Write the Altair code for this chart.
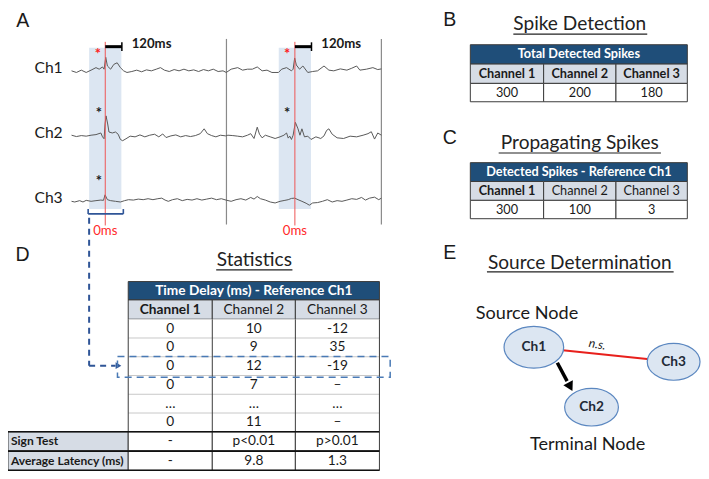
import altair as alt
import pandas as pd

REF_W, REF_H = 709, 479
W, H = 693, 463
S = W / REF_W
BODY = "Lato"
LETTER = "Liberation Sans"
INK = "#1a1a1a"

# ---------------- Panel A data: EEG traces (sample position, amplitude) ----------------
channels = ["Ch1", "Ch2", "Ch3"]
ch1_pos = [65, 70, 75, 80, 85, 90, 93.3, 96.7, 98.3, 100, 101.7, 105, 108.3, 111.7, 115, 118.3, 121.7,
           126.7, 131.7, 136.7, 141.7, 146.7, 151.7, 156, 160, 165, 170, 175, 180, 185, 190, 195, 200,
           205, 210, 215, 220, 223.3, 228.3, 235, 240, 245, 250, 255, 260, 265, 270, 276.7, 280, 285,
           290, 291.7, 293.3, 295, 298.3, 301.7, 306.7, 311.7, 316.7, 323.3, 328.3, 333.3, 340, 346.7,
           351.7, 356.7, 360, 366.7, 373.3, 378.3, 382]
ch1_amp = [0, -1.7, 0.7, -1.7, 0.7, 3.3, 1.7, 4, 1.7, 14, 5, 1.7, 6.7, 8.3, 3.3, 0, -1.7,
           -0.7, 0.7, -1, 1, 0, 1.7, 3.3, 0.7, -0.7, 1.3, 0, 1.7, 0, 1, -0.7, 1.3,
           0, 1.7, -0.7, 0, -1.7, 1.7, 3.3, 0.7, 1.7, 1.7, 4, 0, 0.7, -1.7, -1.7, 1.7, 3.3,
           0, 1.7, 13.3, 6, 1.7, 5, -1.7, -0.7, 0, 5, 0.7, 0, 2, 0.7,
           2.7, 5, 0.7, 1.7, 3.3, 1.3, 2]
ch2_pos = [65, 70, 75, 80, 85, 90, 95, 96.7, 98.3, 99.3, 100.3, 102, 103.3, 106.7, 110, 112.7, 115,
           117.3, 120.7, 125, 130, 135, 140, 145, 150, 154.3, 158.3, 161.7, 166.7, 171.7, 176.7, 181.7,
           186.7, 191.7, 196.7, 200.7, 204, 208.3, 212.7, 217.3, 222.7, 225, 230, 235, 240, 245, 248.3,
           251.7, 255, 257.3, 260, 263.3, 268.3, 273.3, 278.3, 282.3, 285, 286.7, 288.3, 290, 291.7, 294,
           296.7, 298.7, 300.7, 303.3, 306.7, 310, 315, 320, 323.3, 326, 328.3, 331.7, 336.7, 343.3, 350,
           356.7, 363.3, 368.3, 371.7, 375, 378.3, 382]
ch2_amp = [0.7, -0.7, 0.3, -0.3, 0.7, 1.3, 3, -1, -3, 12.3, 20.7, 12.3, 4, 3, 4, 1.7, -3.7,
           -5, -3, -0.3, -1, 1, -1, 0.7, 1.7, -1, 2, -1.7, 0, 1, -1, 0.3,
           -0.7, 0.3, 2.3, 7.3, 2.3, 0.3, -1, 0.7, 0, 0.7, 0.3, -0.3, -1, 0.7, 2.3,
           -2.7, 9, 1.7, -2, 0.7, -1, -2.7, -1, 0.7, 3, -2.3, -0.3, -3.7, 0.7, 14,
           7.3, 0.7, 7.3, -1, -0.3, -3.7, -1, -2.7, 0, 5.7, 7.3, 1.7, -2, -2.7, -0.3,
           -1, 0.7, 2.3, 4.3, -3.3, 3, 0.7]
ch3_pos = [65, 68.3, 73.3, 76.7, 80, 85, 90, 95, 97.7, 99.3, 101.7, 105, 110, 115, 119.3, 123.3,
           128.3, 133.3, 138.3, 143.3, 148.3, 153.3, 157.3, 160.7, 164, 168.3, 173.3, 178.3, 183.3,
           188.3, 193.3, 198.3, 203.3, 208.3, 213.3, 218.3, 223.3, 228.3, 233.3, 238.3, 243.3, 248.3,
           251.7, 255, 258.3, 263.3, 268.3, 273.3, 278.3, 283.3, 286.7, 290, 293.3, 296.7, 300.7, 305,
           308.3, 311.7, 316.7, 321.7, 326.7, 331.7, 336.7, 341.7, 346.7, 351.7, 356.7, 361.7, 365.7,
           370, 375, 379.3, 382]
ch3_amp = [0, -0.7, 0.7, -0.7, 1, 0, 0.7, 1.3, 1, 6.7, 1.7, 0.7, 0, -0.7, 0.7, 1.7,
           1.3, 2.3, 1.7, 2.7, 1.7, 2.7, 3.3, 1.3, 0, 1.7, 2.7, 0.7, 2,
           1.3, 2.7, 1.3, 2.3, 3.3, 1.7, 2.7, 1.2, 0, 1.7, 2.7, 1.3, 4,
           2.3, 5, 2.7, 1.3, -0.7, -1.7, 0, 1, 1.7, 3, 3.3, 1.7, 0, -2,
           -4, -1.7, -1.3, 0, 1.7, -0.7, 0.7, 0, 1.3, 2.7, 2, 4, 1.3,
           3.3, 4.3, 1.7, 3.3]
spike_pos = [99.5, 293.5]
window_label = "120ms"
zero_label = "0ms"

# ---------------- Panel B / C data ----------------
title_b = "Spike Detection"
header_b = "Total Detected Spikes"
col_names = ["Channel 1", "Channel 2", "Channel 3"]
total_spikes = ["300", "200", "180"]
title_c = "Propagating Spikes"
header_c = "Detected Spikes - Reference Ch1"
propagating_spikes = ["300", "100", "3"]

# ---------------- Panel D data ----------------
title_d = "Statistics"
header_d = "Time Delay (ms) - Reference Ch1"
delay_ch1 = ["0", "0", "0", "0", "…", "0"]
delay_ch2 = ["10", "9", "12", "7", "…", "11"]
delay_ch3 = ["-12", "35", "-19", "–", "…", "–"]
stat_rows = ["Sign Test", "Average Latency (ms)"]
sign_test = ["-", "p<0.01", "p>0.01"]
avg_latency = ["-", "9.8", "1.3"]

# ---------------- Panel E data ----------------
title_e = "Source Determination"
node_names = ["Ch1", "Ch2", "Ch3"]
node_role = {"Ch1": "Source Node", "Ch2": "Terminal Node"}
edge_ns = ("Ch1", "Ch3", "n.s.")
edge_sig = ("Ch1", "Ch2")

for p, a in [(ch1_pos, ch1_amp), (ch2_pos, ch2_amp), (ch3_pos, ch3_amp)]:
    assert len(p) == len(a)

# ---------------- scales / helpers ----------------
xs = alt.Scale(domain=[0, REF_W], nice=False, zero=False)
ys = alt.Scale(domain=[0, REF_H], nice=False, zero=False, reverse=True)


def X(f):
    return alt.X(f, type="quantitative", scale=xs, axis=None)


def Y(f):
    return alt.Y(f, type="quantitative", scale=ys, axis=None)


def texts(rows, size, weight="normal", color=INK, align="center", baseline="middle", font=BODY, angle=0,
          italic=False):
    df = pd.DataFrame(rows, columns=["x", "y", "t"])
    kw = dict(fontSize=size * S, fontWeight=weight, color=color, align=align, baseline=baseline, font=font)
    if angle:
        kw["angle"] = angle
    if italic:
        kw["fontStyle"] = "italic"
    return alt.Chart(df).mark_text(**kw).encode(x=X("x"), y=Y("y"), text=alt.Text("t:N"))


def rules(rows, color, width=1.0, dash=None):
    df = pd.DataFrame(rows, columns=["x", "x2", "y", "y2"])
    kw = dict(color=color, strokeWidth=width)
    if dash:
        kw["strokeDash"] = dash
    return alt.Chart(df).mark_rule(**kw).encode(x=X("x"), x2="x2", y=Y("y"), y2="y2")


def rects(rows, stroke=None, width=1.0, dash=None, fill_opacity=1.0):
    df = pd.DataFrame(rows, columns=["x", "x2", "y", "y2", "fill"])
    kw = dict(fillOpacity=fill_opacity)
    if stroke:
        kw.update(stroke=stroke, strokeWidth=width)
    if dash:
        kw["strokeDash"] = dash
    return alt.Chart(df).mark_rect(**kw).encode(x=X("x"), x2="x2", y=Y("y"), y2="y2",
                                                fill=alt.Fill("fill:N", scale=None))


layers = []

# ---------------- Panel A ----------------
HILITE = "#dce6f2"
baselines = {"Ch1": 65, "Ch2": 132.3, "Ch3": 200}
layers.append(rects([(s - 16.5, s + 16.5, 41, 208, HILITE) for s in spike_pos]))
layers.append(rules([(223.5, 223.5, 32, 224), (382, 382, 32, 224)], "#8a8a8a", 1.2))

trace_rows = []
for ch, pos, amp in zip(channels, [ch1_pos, ch2_pos, ch3_pos], [ch1_amp, ch2_amp, ch3_amp]):
    for i, (p, a) in enumerate(zip(pos, amp)):
        trace_rows.append(dict(ch=ch, i=i, x=p, y=baselines[ch] - a))
layers.append(alt.Chart(pd.DataFrame(trace_rows)).mark_line(color="#5a5a5a", strokeWidth=1.0)
              .encode(x=X("x"), y=Y("y"), detail="ch:N", order="i:Q"))

layers.append(rules([(s, s, 35, 225) for s in spike_pos], "#ee5555", 1.0))
layers.append(rules([(s, s + 17, 40, 40) for s in spike_pos], "#000000", 3))
layers.append(rules([(s + 17, s + 17, 35.5, 44.5) for s in spike_pos], "#000000", 1.5))
layers.append(texts([(s + 27, 37.5, window_label) for s in spike_pos], 13.5, weight="bold", align="left"))
layers.append(texts([(s, 231, zero_label) for s in spike_pos], 13.5, color="#ff2a2a"))
# asterisks marking detected spikes
layers.append(texts([(92, 53, "*"), (285.5, 53, "*")], 15, weight="bold", color="#ff2020", baseline="alphabetic"))
layers.append(texts([(93, 114, "*"), (285.5, 114, "*"), (93, 184, "*")], 15, weight="bold",
                    baseline="alphabetic"))
layers.append(texts([(41.5, baselines[c] - 3, c) for c in channels], 16))
# bracket under the first window and dashed pointer into the table
BR = "#2f5597"
layers.append(rules([(82, 118, 213, 213), (82, 82, 208, 213), (118, 118, 208, 213)], BR, 1.6))
layers.append(rules([(83, 83, 217, 370), (83, 110, 370, 370)], BR, 2, dash=[6, 5]))
layers.append(alt.Chart(pd.DataFrame([dict(x=113, y=370)])).mark_point(
    shape="triangle-right", filled=True, color=BR, size=45 * S * S, opacity=1).encode(x=X("x"), y=Y("y")))

# ---------------- panel letters and section titles ----------------
layers.append(texts([(15, 13, "A"), (452, 12, "B"), (452, 134, "C"), (15, 256, "D"), (452, 253, "E")],
                    20, font=LETTER))
layers.append(texts([(585, 17, title_b), (585, 140, title_c), (585, 264, title_e), (252, 261, title_d)],
                    19.5, color="#222222"))
layers.append(rules([(517, 654, 27, 27), (502, 668, 150, 150), (490, 681, 273, 273), (213, 291, 271, 271)],
                    "#222222", 1.2))

# ---------------- tables ----------------
HEAD = "#1f4e79"
SUB = "#d6dce5"
EDGE = "#3c3c3c"


def simple_table(y_edges, header, values, bold_cols):
    xe = [473, 548, 622, 695]
    out = []
    out.append(rects([(xe[0], xe[3], y_edges[0], y_edges[1], HEAD)], stroke=EDGE, width=1))
    out.append(rects([(xe[i], xe[i + 1], y_edges[1], y_edges[2], SUB) for i in range(3)], stroke=EDGE, width=1))
    out.append(rects([(xe[i], xe[i + 1], y_edges[2], y_edges[3], "#ffffff") for i in range(3)], stroke=EDGE,
                     width=1))
    cy0 = (y_edges[0] + y_edges[1]) / 2
    cy1 = (y_edges[1] + y_edges[2]) / 2
    cy2 = (y_edges[2] + y_edges[3]) / 2
    cx = [(xe[i] + xe[i + 1]) / 2 for i in range(3)]
    out.append(texts([((xe[0] + xe[3]) / 2, cy0, header)], 13, weight="bold", color="#ffffff"))
    b = [(cx[i], cy1, col_names[i]) for i in range(3) if i in bold_cols]
    n = [(cx[i], cy1, col_names[i]) for i in range(3) if i not in bold_cols]
    if b:
        out.append(texts(b, 13, weight="bold"))
    if n:
        out.append(texts(n, 13))
    out.append(texts([(cx[i], cy2, values[i]) for i in range(3)], 13))
    return out


layers += simple_table([38, 58, 78, 97], header_b, total_spikes, [0, 1, 2])
layers += simple_table([160, 179.5, 199, 218], header_c, propagating_spikes, [0])

# Panel D table
dx = [123, 209, 294, 380]
dcx = [(dx[i] + dx[i + 1]) / 2 for i in range(3)]
row_edges = [322, 341.4, 360.8, 380.2, 399.6, 419, 438.4]
layers.append(rects([(dx[0], dx[3], 283, 302, HEAD)], stroke=EDGE, width=1))
layers.append(rects([(dx[i], dx[i + 1], 302, 322, SUB) for i in range(3)], stroke=EDGE, width=1))
layers.append(rects([(dx[0], dx[3], 322, 438.4, "#ffffff")]))
layers.append(rules([(dx[0], dx[3], y, y) for y in row_edges[1:-1]], "#c8c8c8", 1))
layers.append(rules([(x, x, 322, 438.4) for x in dx], EDGE, 1))
layers.append(rects([(0, dx[0], 438.4, 458.4, SUB), (0, dx[0], 458.4, 478.4, SUB)]
                    + [(dx[i], dx[i + 1], y0, y0 + 20, "#ffffff") for i in range(3) for y0 in (438.4, 458.4)],
                    stroke=EDGE, width=1))
layers.append(rules([(0, dx[3], 438.4, 438.4), (0, dx[3], 458.4, 458.4), (0, dx[3], 478.4, 478.4)],
                    "#111111", 1.6))
layers.append(texts([((dx[0] + dx[3]) / 2, 292.5, header_d)], 14, weight="bold", color="#ffffff"))
layers.append(texts([(dcx[0], 312, col_names[0])], 14, weight="bold"))
layers.append(texts([(dcx[1], 312, col_names[1]), (dcx[2], 312, col_names[2])], 14))
cell_rows = []
for r in range(len(delay_ch1)):
    cy = (row_edges[r] + row_edges[r + 1]) / 2
    for c, col in enumerate([delay_ch1, delay_ch2, delay_ch3]):
        cell_rows.append((dcx[c], cy, col[r]))
layers.append(texts(cell_rows, 14))
layers.append(texts([(3, 448.4, stat_rows[0]), (3, 468.4, stat_rows[1])], 12.3, weight="bold", align="left"))
layers.append(texts([(dcx[c], 448.4, sign_test[c]) for c in range(3)]
                    + [(dcx[c], 468.4, avg_latency[c]) for c in range(3)], 14))
# dashed highlight of one row
layers.append(rects([(112, 391, 360.5, 382, "#ffffff")], stroke="#4a7ab5", width=1.5, dash=[7, 5],
                    fill_opacity=0))

# ---------------- Panel E: node graph ----------------
node_x = {"Ch1": 538, "Ch2": 597, "Ch3": 681}
node_y = {"Ch1": 351, "Ch2": 413, "Ch3": 366}
node_rx = {"Ch1": 30.5, "Ch2": 27.5, "Ch3": 27}
a, b = edge_ns[0], edge_ns[1]
layers.append(rules([(node_x[a], node_x[b], node_y[a], node_y[b])], "#e8201c", 2.2))
layers.append(rules([(562, 572, 367, 386)], "#000000", 3.5))
layers.append(alt.Chart(pd.DataFrame([dict(x=574.5, y=390.5)])).mark_point(
    shape="triangle", filled=True, color="#000000", size=120 * S * S, angle=152, opacity=1)
    .encode(x=X("x"), y=Y("y")))
ELL = ("M1,0 C1,0.3866 0.5523,0.7 0,0.7 C-0.5523,0.7 -1,0.3866 -1,0 "
       "C-1,-0.3866 -0.5523,-0.7 0,-0.7 C0.5523,-0.7 1,-0.3866 1,0 Z")
nodes_df = pd.DataFrame([dict(x=node_x[n], y=node_y[n], size=(2 * node_rx[n] * S) ** 2, t=n) for n in node_names])
layers.append(alt.Chart(nodes_df).mark_point(shape=ELL, filled=True, fill="#dce6f2", stroke="#5b87c0",
                                             strokeWidth=1.2, opacity=1, fillOpacity=1)
              .encode(x=X("x"), y=Y("y"), size=alt.Size("size:Q", scale=None)))
layers.append(texts([(node_x[n], node_y[n], n) for n in node_names], 14, weight="bold", color="#1f2a36"))
layers.append(texts([(603, 348, edge_ns[2])], 12.5, italic=True, angle=10, color="#222222"))
layers.append(texts([(531, 317, node_role["Ch1"]), (593, 452, node_role["Ch2"])], 18.5, color="#1a1a1a"))

chart = (alt.layer(*layers)
         .properties(width=W, height=H, padding=0, autosize="none")
         .configure_view(stroke=None))
chart.save("out.html", embed_options={"renderer": "svg", "actions": False})
